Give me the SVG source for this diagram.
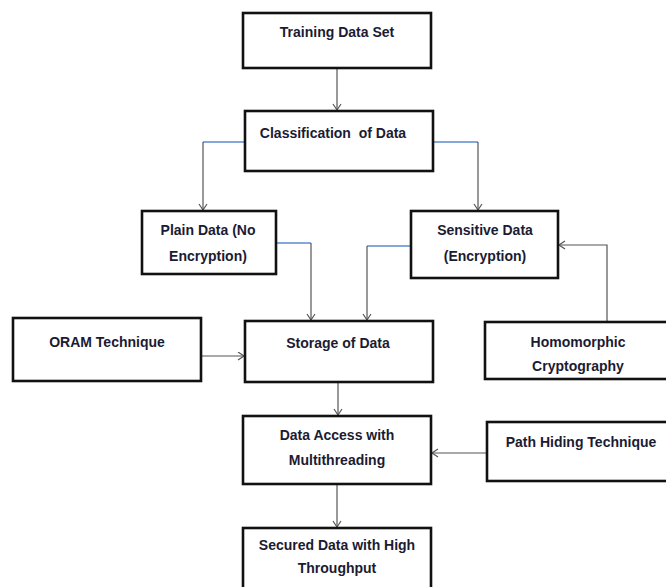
<svg xmlns="http://www.w3.org/2000/svg" width="666" height="587" viewBox="0 0 666 587">
  <style>
    .box { fill: #ffffff; stroke: #111111; stroke-width: 2.6; }
    .lbl { font-family: "Liberation Sans", Arial, sans-serif; font-size: 14px; font-weight: bold; fill: #1b1b33; text-anchor: middle; }
    .con { fill: none; stroke: #555555; stroke-width: 1.2; }
    .blue { fill: none; stroke: #5b8bd0; stroke-width: 1.4; }
  </style>
  <defs>
    <marker id="arr" markerUnits="userSpaceOnUse" markerWidth="10" markerHeight="10" refX="7" refY="4.5" orient="auto">
      <path d="M1,0.5 L7,4.5 L1,8.5" fill="none" stroke="#555555" stroke-width="1.2"/>
    </marker>
  </defs>
  <rect width="666" height="587" fill="#ffffff"/>

  <g id="connectors">
    <line class="con" x1="337" y1="69" x2="337" y2="110" marker-end="url(#arr)"/>
    <polyline class="blue" points="245,142 203,142"/>
    <line class="con" x1="203" y1="142" x2="203" y2="210" marker-end="url(#arr)"/>
    <polyline class="blue" points="433,142 478,142"/>
    <line class="con" x1="478" y1="142" x2="478" y2="210" marker-end="url(#arr)"/>
    <polyline class="blue" points="276,243 311,243"/>
    <line class="con" x1="311" y1="243" x2="311" y2="320" marker-end="url(#arr)"/>
    <polyline class="blue" points="411,246 367,246"/>
    <line class="con" x1="367" y1="246" x2="367" y2="320" marker-end="url(#arr)"/>
    <polyline class="con" points="607,322 607,245 559,245" marker-end="url(#arr)"/>
    <line class="con" x1="201" y1="356" x2="244" y2="356" marker-end="url(#arr)"/>
    <line class="con" x1="338" y1="382" x2="338" y2="415" marker-end="url(#arr)"/>
    <line class="con" x1="487" y1="453" x2="432" y2="453" marker-end="url(#arr)"/>
    <line class="con" x1="337" y1="485" x2="337" y2="527" marker-end="url(#arr)"/>
  </g>

  <g id="training">
    <rect class="box" x="243" y="13" width="188" height="55"/>
    <text class="lbl" x="337" y="37">Training Data Set</text>
  </g>
  <g id="classification">
    <rect class="box" x="245" y="111" width="188" height="60"/>
    <text class="lbl" x="333" y="138" xml:space="preserve">Classification  of Data</text>
  </g>
  <g id="plain">
    <rect class="box" x="142" y="211" width="134" height="63"/>
    <text class="lbl" x="208" y="235">Plain Data (No</text>
    <text class="lbl" x="208" y="261">Encryption)</text>
  </g>
  <g id="sensitive">
    <rect class="box" x="411" y="211" width="147" height="67"/>
    <text class="lbl" x="485" y="235">Sensitive Data</text>
    <text class="lbl" x="485" y="261">(Encryption)</text>
  </g>
  <g id="oram">
    <rect class="box" x="13" y="318" width="188" height="63"/>
    <text class="lbl" x="107" y="347">ORAM Technique</text>
  </g>
  <g id="storage">
    <rect class="box" x="245" y="321" width="188" height="61"/>
    <text class="lbl" x="338" y="348">Storage of Data</text>
  </g>
  <g id="homomorphic">
    <rect class="box" x="485" y="322" width="185" height="57"/>
    <text class="lbl" x="578" y="347">Homomorphic</text>
    <text class="lbl" x="578" y="371">Cryptography</text>
  </g>
  <g id="access">
    <rect class="box" x="243" y="416" width="188" height="68"/>
    <text class="lbl" x="337" y="440">Data Access with</text>
    <text class="lbl" x="337" y="465">Multithreading</text>
  </g>
  <g id="pathhiding">
    <rect class="box" x="487" y="422" width="183" height="59"/>
    <text class="lbl" x="581" y="447">Path Hiding Technique</text>
  </g>
  <g id="secured">
    <rect class="box" x="243" y="528" width="188" height="64"/>
    <text class="lbl" x="337" y="550">Secured Data with High</text>
    <text class="lbl" x="337" y="573">Throughput</text>
  </g>
</svg>
